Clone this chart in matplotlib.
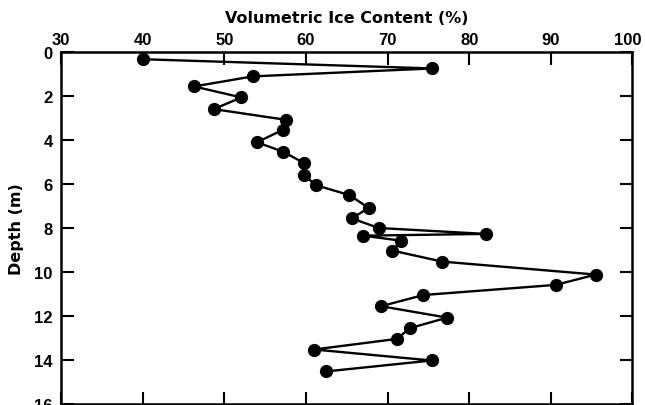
import matplotlib.pyplot as plt
import matplotlib.transforms as mtransforms

ice_content = [40.0, 75.5, 53.5, 46.3, 52.1, 48.7, 57.6, 57.2, 54.0, 57.2, 59.8,
               59.8, 61.2, 65.3, 67.7, 65.6, 68.9, 82.0, 67.0, 71.7, 70.6, 76.7,
               95.5, 90.6, 74.4, 69.2, 77.3, 72.8, 71.1, 61.0, 75.4, 62.4]
depth = [0.32, 0.74, 1.10, 1.56, 2.06, 2.59, 3.08, 3.53, 4.10, 4.53, 5.05,
         5.59, 6.05, 6.50, 7.09, 7.56, 8.00, 8.27, 8.35, 8.58, 9.03, 9.53,
         10.12, 10.59, 11.05, 11.56, 12.08, 12.55, 13.05, 13.53, 14.03, 14.53]
x_ticks = [30, 40, 50, 60, 70, 80, 90, 100]
y_ticks = [0, 2, 4, 6, 8, 10, 12, 14, 16]

plt.rcParams['font.family'] = 'Liberation Sans'
plt.rcParams['font.weight'] = 'bold'

fig = plt.figure(figsize=(6.45, 4.06), dpi=100)
ax = fig.add_axes([0.0946, 0.003, 0.886, 0.866])

ax.plot(ice_content, depth, color='black', linewidth=1.7, marker='o',
        markersize=8.5, markerfacecolor='black', markeredgecolor='black')

ax.set_xlim(30, 100)
ax.set_ylim(16, 0)
ax.set_xticks(x_ticks)
ax.set_yticks(y_ticks)
ax.xaxis.set_ticks_position('both')
ax.yaxis.set_ticks_position('both')
ax.xaxis.set_label_position('top')
ax.tick_params(axis='both', direction='in', length=9, width=1.5,
               labelsize=12, top=True, bottom=True, left=True, right=True,
               labeltop=True, labelbottom=False)
ax.tick_params(axis='x', pad=4)
ax.tick_params(axis='y', pad=6)
for lab in ax.get_xticklabels() + ax.get_yticklabels():
    lab.set_fontweight('bold')
for sp in ax.spines.values():
    sp.set_linewidth(1.8)

# nudge the last top label so it stays inside the figure, as in the original
shift = mtransforms.ScaledTranslation(-5 / 100, 0, fig.dpi_scale_trans)
last = ax.xaxis.get_major_ticks()[-1].label2
last.set_transform(last.get_transform() + shift)

ax.set_xlabel('Volumetric Ice Content (%)', fontsize=11.5, fontweight='bold',
              family='DejaVu Sans', labelpad=7)
ax.set_ylabel('Depth (m)', fontsize=11.5, fontweight='bold',
              family='DejaVu Sans', labelpad=7)

fig.savefig('out.png', dpi=100)
